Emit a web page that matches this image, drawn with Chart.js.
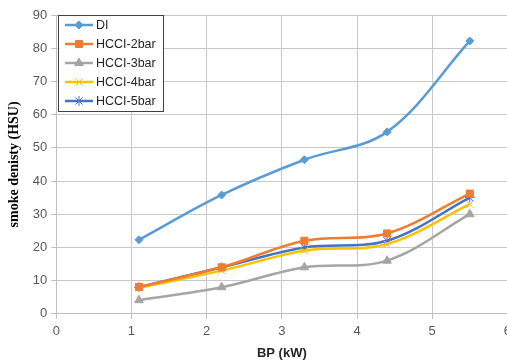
<!DOCTYPE html>
<html><head><meta charset="utf-8">
<script src="https://cdn.jsdelivr.net/npm/chart.js@4"></script>
<style>html,body{margin:0;padding:0;background:#fff;overflow:hidden;}#wrap{width:516px;height:360px;position:relative;}</style>
</head><body><div id="wrap"><canvas id="c"></canvas></div>
<script>
const xValues = [1.1, 2.2, 3.3, 4.4, 5.5];
const seriesNames = ['DI', 'HCCI-2bar', 'HCCI-3bar', 'HCCI-4bar', 'HCCI-5bar'];
const DI = [22.3, 35.8, 46.4, 54.8, 82.2];
const HCCI2 = [8.1, 14, 22, 24.2, 36.2];
const HCCI3 = [4.1, 8, 14, 16, 30];
const HCCI4 = [7.8, 13, 19, 21, 33];
const HCCI5 = [8, 14, 20, 22, 35];
const xTicks = [0, 1, 2, 3, 4, 5, 6];
const yTicks = [0, 10, 20, 30, 40, 50, 60, 70, 80, 90];

const colors = ['#5B9BD5', '#ED7D31', '#A5A5A5', '#FFC000', '#4472C4'];
const shapes = ['rectRot', 'rect', 'triangle', 'crossRot', 'star'];
const radii = [4, 5, 5, 5, 5];
const allData = [DI, HCCI2, HCCI3, HCCI4, HCCI5];

const datasets = allData.map((vals, i) => ({
  label: seriesNames[i],
  data: vals.map((v, j) => ({x: xValues[j], y: v})),
  borderColor: colors[i],
  backgroundColor: colors[i],
  pointBackgroundColor: colors[i],
  pointBorderColor: colors[i],
  pointStyle: shapes[i],
  pointRadius: radii[i],
  pointBorderWidth: 1,
  borderWidth: 2.5,
  tension: 0.35,
  cubicInterpolationMode: 'default'
}));

const legendPlugin = {
  id: 'boxLegend',
  afterDraw(chart) {
    const ctx = chart.ctx;
    ctx.save();
    const bx = 58.5, by = 15.5, bw = 105, bh = 96;
    ctx.fillStyle = '#fff';
    ctx.fillRect(bx, by, bw, bh);
    ctx.strokeStyle = '#404040';
    ctx.lineWidth = 1;
    ctx.strokeRect(bx, by, bw, bh);
    chart.data.datasets.forEach((ds, i) => {
      const y = 25 + i * 19;
      ctx.strokeStyle = ds.borderColor;
      ctx.lineWidth = 2.5;
      ctx.beginPath(); ctx.moveTo(65, y); ctx.lineTo(93, y); ctx.stroke();
      ctx.fillStyle = ds.borderColor;
      ctx.strokeStyle = ds.borderColor;
      ctx.lineWidth = 1;
      Chart.helpers.drawPoint(ctx, {pointStyle: ds.pointStyle, radius: ds.pointRadius, borderWidth: 1, rotation: 0}, 79, y);
      ctx.fillStyle = '#262626';
      ctx.font = '12.5px "Liberation Sans", Arial, sans-serif';
      ctx.textBaseline = 'middle';
      ctx.textAlign = 'left';
      ctx.fillText(ds.label, 96, y + 1);
    });
    ctx.restore();
  }
};

new Chart(document.getElementById('c'), {
  type: 'line',
  data: {datasets},
  options: {
    responsive: true,
    maintainAspectRatio: false,
    animation: false,
    layout: {padding: {top: 15, left: 6, right: 0, bottom: -1}},
    plugins: {legend: {display: false}, tooltip: {enabled: false}},
    scales: {
      x: {
        type: 'linear', min: 0, max: 6,
        afterBuildTicks: s => { s.ticks = xTicks.map(v => ({value: v})); },
        ticks: {color: '#595959', font: {size: 13, family: '"Liberation Sans", Arial, sans-serif'}, padding: 5},
        grid: {color: '#c8c8c8', borderDash: [2, 2], tickBorderDash: [], tickColor: '#bfbfbf', tickLength: 5, drawTicks: true},
        border: {color: '#bfbfbf', width: 1},
        title: {display: true, text: 'BP (kW)', color: '#262626', font: {size: 13, weight: 'bold', family: '"Liberation Sans", Arial, sans-serif'}, padding: {top: 1, bottom: 0}}
      },
      y: {
        min: 0, max: 90,
        afterBuildTicks: s => { s.ticks = yTicks.map(v => ({value: v})); },
        ticks: {color: '#595959', font: {size: 13, family: '"Liberation Sans", Arial, sans-serif'}, padding: 4},
        grid: {color: '#c8c8c8', borderDash: [2, 2], tickBorderDash: [], tickColor: '#bfbfbf', tickLength: 5},
        border: {color: '#bfbfbf', width: 1},
        title: {display: true, text: 'smoke denisty (HSU)', color: '#000', font: {size: 14, weight: 'bold', family: '"Liberation Serif", "Times New Roman", serif'}, padding: {top: 0, bottom: 6}}
      }
    }
  },
  plugins: [legendPlugin]
});
</script></body></html>
